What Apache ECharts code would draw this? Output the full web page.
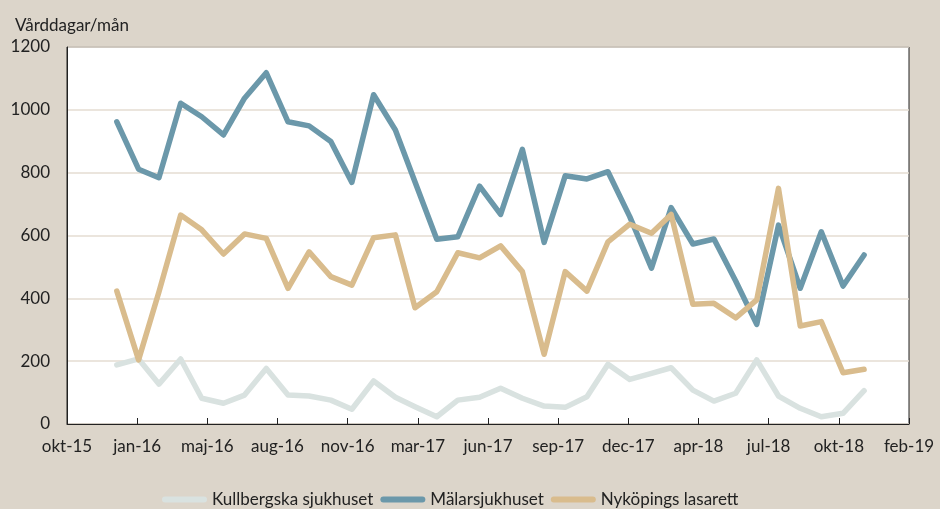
<!DOCTYPE html>
<html>
<head>
<meta charset="utf-8">
<script src="https://cdn.jsdelivr.net/npm/echarts@6/dist/echarts.min.js"></script>
<style>
  html, body { margin: 0; padding: 0; background: #dcd5ca; }
  #myChart { width: 940px; height: 509px; }
</style>
</head>
<body>
<div id="myChart"></div>
<script>
// månader (första i varje månad)
var months = ['2016-01','2016-02','2016-03','2016-04','2016-05','2016-06','2016-07','2016-08','2016-09','2016-10','2016-11','2016-12',
              '2017-01','2017-02','2017-03','2017-04','2017-05','2017-06','2017-07','2017-08','2017-09','2017-10','2017-11','2017-12',
              '2018-01','2018-02','2018-03','2018-04','2018-05','2018-06','2018-07','2018-08','2018-09','2018-10','2018-11','2018-12'];
var kullbergska = [188,207,127,207,82,66,92,177,92,89,76,47, 137,85,55,23,76,85,114,82,57,53,87,190, 142,161,179,108,73,98,204,89,50,23,34,106];
var malar = [962,811,784,1021,978,920,1037,1118,962,949,899,769, 1048,936,770,588,596,757,667,874,578,790,780,803, 660,496,689,573,589,455,317,633,432,612,439,538];
var nykoping = [423,204,420,665,618,541,605,591,432,548,469,442, 593,602,370,421,545,529,567,485,222,485,423,580, 636,607,667,381,384,338,395,750,312,326,163,174];
var tickLabels = ['okt-15','jan-16','maj-16','aug-16','nov-16','mar-17','jun-17','sep-17','dec-17','apr-18','jul-18','okt-18','feb-19'];

var axisStart = Date.UTC(2015, 9, 22); // axelns början, steg om 100 dagar
function dayOf(m) {
  var p = m.split('-');
  return (Date.UTC(+p[0], +p[1] - 1, 1) - axisStart) / 86400000;
}
function pts(vals) {
  return vals.map(function (v, i) { return [dayOf(months[i]), v]; });
}

var font = 'Lato';
var pill = 'path://M3,0 L42,0 A3,3 0 0 1 42,6 L3,6 A3,3 0 0 1 3,0 Z';
var myChart = echarts.init(document.getElementById('myChart'));
var option = {
  backgroundColor: '#dcd5ca',
  textStyle: { fontFamily: font },
  title: {
    text: 'Vårddagar/mån', left: 10, top: 12,
    textStyle: { fontFamily: font, fontSize: 17, fontWeight: 'normal', color: '#222' }
  },
  grid: {
    left: 67, right: 31, top: 47, bottom: 85,
    show: true, backgroundColor: '#fff', borderColor: '#222', borderWidth: 1
  },
  legend: {
    top: 486, left: 157, itemWidth: 45, itemHeight: 6, itemGap: 7, icon: pill,
    textStyle: { fontFamily: font, fontSize: 17, color: '#222' },
    data: ['Kullbergska sjukhuset', 'Mälarsjukhuset', 'Nyköpings lasarett']
  },
  xAxis: {
    type: 'value', min: 0, max: 1200, interval: 100,
    axisLine: { show: true, lineStyle: { color: '#222', width: 1 } },
    axisTick: { show: true, inside: true, length: 6, lineStyle: { color: '#222' } },
    splitLine: { show: false },
    axisLabel: {
      margin: 14, color: '#222', fontSize: 17, fontFamily: font,
      formatter: function (v) { return tickLabels[Math.round(v / 100)]; }
    }
  },
  yAxis: {
    type: 'value', min: 0, max: 1200, interval: 200,
    axisLine: { show: true, lineStyle: { color: '#222', width: 1 } },
    axisTick: { show: false },
    axisLabel: { margin: 17, color: '#222', fontSize: 17, fontFamily: font,
      formatter: function (v) { return String(v); } },
    splitLine: { lineStyle: { color: '#e4ddd2', width: 1.5 } }
  },
  series: [
    { name: 'Kullbergska sjukhuset', type: 'line', data: pts(kullbergska), symbol: 'none',
      lineStyle: { color: '#d9e2e0', width: 5.5, cap: 'round', join: 'round' }, itemStyle: { color: '#d9e2e0' } },
    { name: 'Mälarsjukhuset', type: 'line', data: pts(malar), symbol: 'none',
      lineStyle: { color: '#6b98aa', width: 5.5, cap: 'round', join: 'round' }, itemStyle: { color: '#6b98aa' } },
    { name: 'Nyköpings lasarett', type: 'line', data: pts(nykoping), symbol: 'none',
      lineStyle: { color: '#d9bc8d', width: 5.5, cap: 'round', join: 'round' }, itemStyle: { color: '#d9bc8d' } }
  ]
};
myChart.setOption(option);
window.onresize = myChart.resize;
</script>
</body>
</html>
